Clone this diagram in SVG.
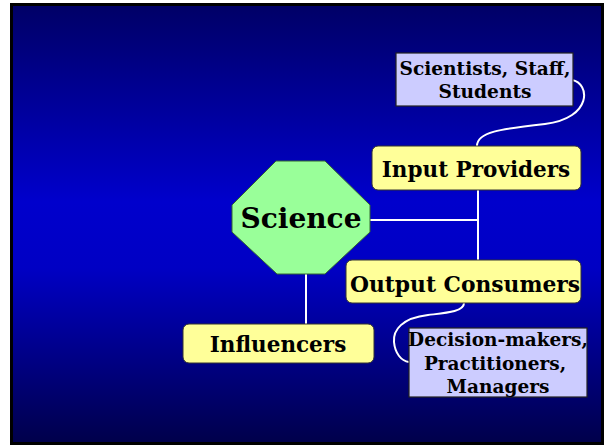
<svg xmlns="http://www.w3.org/2000/svg" width="605" height="447" viewBox="0 0 605 447">
<style>
.t{font-family:"DejaVu Serif","Liberation Serif",serif;font-weight:bold;fill:#000;text-anchor:middle}
.y{fill:#FFFF99;stroke:#333;stroke-width:1}
.l{fill:#CCCCFF;stroke:#222;stroke-width:1.2}
.c{fill:none;stroke:#fff;stroke-width:2}
</style>
<defs>
<linearGradient id="bg" x1="0" y1="0" x2="0" y2="1">
<stop offset="0" stop-color="#000066"/>
<stop offset="0.45" stop-color="#0000CC"/>
<stop offset="0.6" stop-color="#0000C4"/>
<stop offset="1" stop-color="#00004A"/>
</linearGradient>
</defs>
<rect x="0" y="0" width="605" height="447" fill="#fff"/>
<rect x="11.5" y="4.5" width="591" height="439" fill="url(#bg)" stroke="#000" stroke-width="3"/>
<g id="connectors">
<line class="c" x1="370" y1="220" x2="478" y2="220"/>
<line class="c" x1="478" y1="190" x2="478" y2="260"/>
<line class="c" x1="306" y1="274" x2="306" y2="324"/>
<path class="c" d="M572,80 C590,83 593,118 545,124 C500,129 477,132 477,146"/>
<path class="c" d="M464,303 C464,312 445,313 428,315 C402,318 393,330 394,342 C395,353 401,361 409,362"/>
</g>
<g id="scientists">
<rect class="l" x="396" y="53" width="177" height="53"/>
<text class="t" x="485" y="75" font-size="18.6">Scientists, Staff,</text>
<text class="t" x="485" y="98" font-size="18.6">Students</text>
</g>
<g id="input">
<rect class="y" x="372" y="146" width="209" height="44" rx="6"/>
<text class="t" x="476" y="177" font-size="21.5">Input Providers</text>
</g>
<g id="science">
<polygon points="276,161 325,161 370,205 370,232 325,274 277,274 232,232 232,205" fill="#99FF99" stroke="#336633" stroke-width="1"/>
<text class="t" x="301" y="228" font-size="28">Science</text>
</g>
<g id="output">
<rect class="y" x="346" y="260" width="235" height="43" rx="6"/>
<text class="t" x="465" y="292" font-size="21.8">Output Consumers</text>
</g>
<g id="influencers">
<rect class="y" x="183" y="324" width="191" height="39" rx="6"/>
<text class="t" x="278" y="352" font-size="21.5">Influencers</text>
</g>
<g id="decision">
<rect class="l" x="409" y="328" width="178" height="69"/>
<text class="t" x="498" y="346" font-size="18.5">Decision-makers,</text>
<text class="t" x="495" y="370" font-size="18.5">Practitioners,</text>
<text class="t" x="498" y="393" font-size="18.5">Managers</text>
</g>
</svg>
